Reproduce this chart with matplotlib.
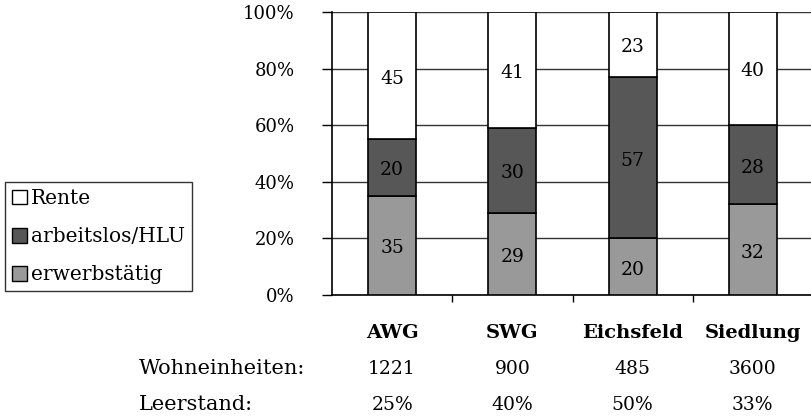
import numpy as np
import matplotlib
matplotlib.use("Agg")
import matplotlib.pyplot as plt
from matplotlib.patches import Patch
from matplotlib.transforms import blended_transform_factory

plt.rcParams['font.family'] = ['DejaVu Serif']

categories = ['AWG', 'SWG', 'Eichsfeld', 'Siedlung']
erwerbstaetig = [35, 29, 20, 32]
arbeitslos = [20, 30, 57, 28]
rente = [45, 41, 23, 40]
wohneinheiten = [1221, 900, 485, 3600]
leerstand = ['25%', '40%', '50%', '33%']

c_light = '#999999'
c_dark = '#575757'

W, H = 811, 418
fig = plt.figure(figsize=(W / 100, H / 100), dpi=100)
ax = fig.add_axes([332 / W, 1 - 295 / H, 481 / W, 283 / H])

x = np.arange(len(categories))
bottom = np.zeros(len(categories))
for vals, col in [(erwerbstaetig, c_light), (arbeitslos, c_dark), (rente, 'white')]:
    ax.bar(x, vals, width=0.4, bottom=bottom, color=col, edgecolor='black',
           linewidth=1.2, zorder=3)
    for xi, b, v in zip(x, bottom, vals):
        ax.text(xi, b + v / 2 - 1, str(v), ha='center', va='center',
                fontsize=13.5, zorder=4)
    bottom += np.array(vals)

ax.set_xlim(-0.5, 3.5)
ax.set_ylim(0, 100)
ax.set_yticks(range(0, 101, 20))
ax.set_yticklabels([f'{v}%' for v in range(0, 101, 20)], fontsize=13)
ax.set_xticks([0.5, 1.5, 2.5])
ax.set_xticklabels([])
ax.tick_params(axis='y', length=7, width=1, pad=20)
ax.tick_params(axis='x', length=5, width=1)
ax.yaxis.grid(True, color='#333333', linewidth=1, zorder=0)
ax.set_axisbelow(True)
for s in ['top', 'right']:
    ax.spines[s].set_visible(False)
ax.spines['left'].set_linewidth(1.2)
ax.spines['bottom'].set_linewidth(1.2)

# table beneath the bars
tr = blended_transform_factory(ax.transData, fig.transFigure)
for xi, name, we, le in zip(x, categories, wohneinheiten, leerstand):
    ax.text(xi, 1 - 333 / H, name, transform=tr, ha='center', va='center',
            fontsize=14, fontweight='bold')
    ax.text(xi, 1 - 369 / H, str(we), transform=tr, ha='center', va='center',
            fontsize=13.5)
    ax.text(xi, 1 - 405 / H, le, transform=tr, ha='center', va='center',
            fontsize=13.5)
fig.text(139 / W, 1 - 369 / H, 'Wohneinheiten:', ha='left', va='center', fontsize=15)
fig.text(139 / W, 1 - 405 / H, 'Leerstand:', ha='left', va='center', fontsize=15)

handles = [Patch(facecolor='white', edgecolor='black'),
           Patch(facecolor=c_dark, edgecolor='black'),
           Patch(facecolor=c_light, edgecolor='black')]
leg = fig.legend(handles, ['Rente', 'arbeitslos/HLU', 'erwerbstätig'],
                 loc='upper left', bbox_to_anchor=(5 / W, 1 - 182 / H),
                 fontsize=14.5, frameon=True, fancybox=False, edgecolor='black',
                 handlelength=0.75, handleheight=0.75, handletextpad=0.2,
                 labelspacing=0.95, borderpad=0.35, borderaxespad=0)
leg.get_frame().set_linewidth(1.0)

fig.savefig('out.png', dpi=100)
